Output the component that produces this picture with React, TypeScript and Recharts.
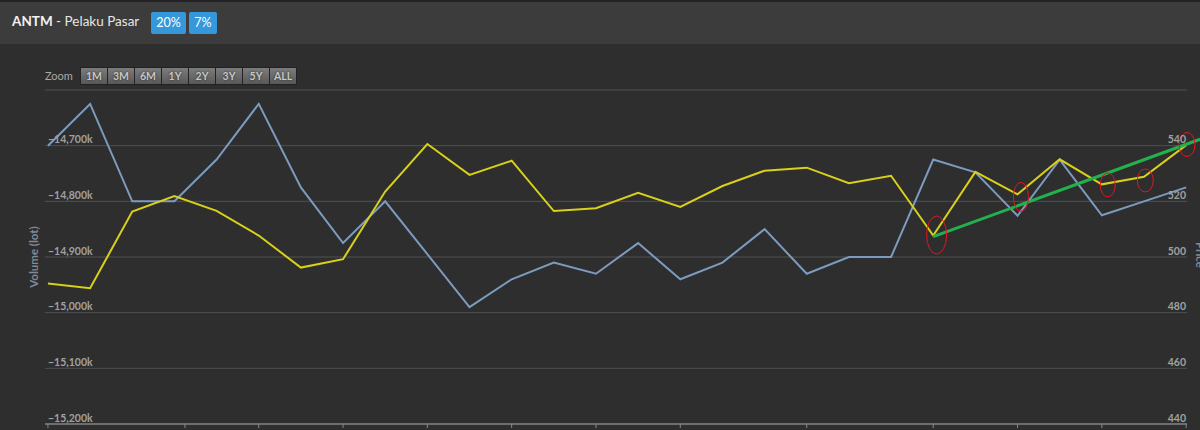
import React from "react";
import {
  LineChart,
  Line,
  XAxis,
  YAxis,
  CartesianGrid,
  ReferenceLine,
  ReferenceDot,
} from "recharts";

// one value per trading session, oldest first
const volumeLot = [
  -14700000, -14625000, -14800000, -14800000, -14725000, -14625000, -14775000,
  -14875000, -14800000, -14895000, -14990000, -14940000, -14910000, -14930000,
  -14875000, -14940000, -14910000, -14850000, -14930000, -14900000, -14900000,
  -14725000, -14748000, -14826000, -14725000, -14825000, -14800000, -14775000,
];

const price = [
  490.5, 488.8, 516.3, 521.9, 516.6, 507.7, 496.2, 499.2, 523.5, 540.6, 529.5,
  534.6, 516.5, 517.5, 523.1, 518, 525.5, 531, 532.1, 526.5, 529.2, 507.7,
  530.6, 522.5, 535.1, 526.1, 528.8, 540.2,
];

const volumeTicks = [
  -15200000, -15100000, -15000000, -14900000, -14800000, -14700000, -14600000,
];
const priceTicks = [440, 460, 480, 500, 520, 540, 560];
const sessionTicks = [0, 3.25, 5, 7, 9, 11, 13, 15, 18, 21, 23, 25, 27];

const zoomButtons = ["1M", "3M", "6M", "1Y", "2Y", "3Y", "5Y", "ALL"];
const ratioBadges = ["20%", "7%"];

// hand-drawn marks on the screenshot: trend line and circled sessions
const trendFrom = { session: 21, price: 507.3 };
const trendTo = { session: 27.33, price: 542.3 };
const circled = [
  { session: 21.08, price: 507.9, rx: 10, ry: 19 },
  { session: 23.08, price: 521.6, rx: 7.5, ry: 14.5 },
  { session: 25.14, price: 525.9, rx: 7.5, ry: 12 },
  { session: 26.03, price: 527.5, rx: 8, ry: 11.5 },
  { session: 27.02, price: 540.4, rx: 8, ry: 12 },
];

const data = price.map((p, i) => ({
  session: i,
  volume: volumeLot[i],
  price: p,
}));

const fmtVolume = (v: number) =>
  "\u2212" + Math.abs(v / 1000).toLocaleString("en-US") + "k";

const LeftTick = ({ x, y, payload }: any) => {
  if (payload.value === volumeTicks[volumeTicks.length - 1]) return null;
  return (
    <text
      x={x + 3}
      y={y - 2.5}
      textAnchor="start"
      fill="#a0a0a0"
      fontSize={10.5}
      fontWeight="bold"
      fontFamily="Lato"
    >
      {fmtVolume(payload.value)}
    </text>
  );
};

const RightTick = ({ x, y, payload }: any) => {
  if (payload.value === priceTicks[priceTicks.length - 1]) return null;
  return (
    <text
      x={x - 1}
      y={y - 2.5}
      textAnchor="end"
      fill="#a0a0a0"
      fontSize={10.5}
      fontWeight="bold"
      fontFamily="Lato"
    >
      {payload.value}
    </text>
  );
};

const NoLabel = () => <g />;

const App = () => {
  return (
    <div
      style={{
        position: "absolute",
        left: 0,
        top: 0,
        width: 1200,
        height: 430,
        overflow: "hidden",
        background: "#2e2e2e",
        fontFamily: "Lato",
      }}
    >
      {/* header */}
      <div
        style={{
          position: "absolute",
          left: 0,
          top: 0,
          width: 1200,
          height: 44,
          background: "#3c3c3c",
          borderTop: "2px solid #232323",
          boxSizing: "border-box",
        }}
      >
        <div
          style={{
            position: "absolute",
            left: 12,
            top: 11,
            fontSize: 13.5,
            color: "#e6e6e6",
            whiteSpace: "nowrap",
          }}
        >
          <b style={{ color: "#f2f2f2" }}>ANTM</b> - Pelaku Pasar
        </div>
        {ratioBadges.map((b, i) => (
          <div
            key={b}
            style={{
              position: "absolute",
              left: i === 0 ? 151 : 189,
              top: 10,
              height: 22,
              width: i === 0 ? 35 : 28,
              background: "#3498db",
              borderRadius: 2,
              color: "#fff",
              fontSize: 12.5,
              lineHeight: "22px",
              textAlign: "center",
            }}
          >
            {b}
          </div>
        ))}
      </div>

      {/* range selector */}
      <div
        style={{
          position: "absolute",
          left: 45,
          top: 69,
          fontSize: 11,
          color: "#a8a8a8",
        }}
      >
        Zoom
      </div>
      <div
        style={{
          position: "absolute",
          left: 80,
          top: 67,
          display: "flex",
          border: "1px solid #222",
          background: "#222",
          gap: 1,
        }}
      >
        {zoomButtons.map((z) => (
          <div
            key={z}
            style={{
              width: 26,
              height: 16,
              background: "linear-gradient(#7c7c7c, #585858)",
              color: "#c8c8c8",
              fontSize: 10.5,
              fontWeight: "bold",
              lineHeight: "16px",
              textAlign: "center",
              textShadow: "0 0 2px #222",
            }}
          >
            {z}
          </div>
        ))}
      </div>

      {/* axis titles */}
      <div
        style={{
          position: "absolute",
          left: 33,
          top: 257,
          transform: "translate(-50%, -50%) rotate(-90deg)",
          fontSize: 11.5,
          fontWeight: "bold",
          color: "#808a98",
          whiteSpace: "nowrap",
        }}
      >
        Volume (lot)
      </div>
      <div
        style={{
          position: "absolute",
          left: 1200,
          top: 255,
          transform: "translate(-50%, -50%) rotate(90deg)",
          fontSize: 11.5,
          fontWeight: "bold",
          color: "#808a98",
          whiteSpace: "nowrap",
        }}
      >
        Price
      </div>

      <div style={{ position: "absolute", left: 0, top: 0 }}>
        <LineChart
          width={1200}
          height={430}
          data={data}
          margin={{ top: 90, right: 0, bottom: 0, left: 0 }}
        >
          <CartesianGrid
            horizontal
            vertical={false}
            stroke="#515151"
            yAxisId="volume"
          />
          <XAxis
            dataKey="session"
            type="number"
            domain={[-0.07, 27.02]}
            ticks={sessionTicks}
            interval={0}
            height={6}
            tickSize={4}
            tick={<NoLabel />}
            stroke="#777"
            axisLine={{ stroke: "#6e6e6e", strokeWidth: 2 }}
            tickLine={{ stroke: "#888" }}
          />
          <YAxis
            yAxisId="volume"
            orientation="left"
            width={45}
            domain={[-15200000, -14600000]}
            ticks={volumeTicks}
            interval={0}
            axisLine={false}
            tickLine={false}
            tickSize={0}
            tickMargin={0}
            tick={<LeftTick />}
          />
          <YAxis
            yAxisId="price"
            orientation="right"
            width={13}
            domain={[440, 560]}
            ticks={priceTicks}
            interval={0}
            axisLine={false}
            tickLine={false}
            tickSize={0}
            tickMargin={0}
            tick={<RightTick />}
          />
          <Line
            yAxisId="volume"
            dataKey="volume"
            type="linear"
            stroke="#7c9bbf"
            strokeWidth={2}
            dot={false}
            activeDot={false}
            isAnimationActive={false}
          />
          <Line
            yAxisId="price"
            dataKey="price"
            type="linear"
            stroke="#d8d01a"
            strokeWidth={2}
            dot={false}
            activeDot={false}
            isAnimationActive={false}
          />
          <ReferenceLine
            yAxisId="price"
            ifOverflow="visible"
            segment={[
              { x: trendFrom.session, y: trendFrom.price },
              { x: trendTo.session, y: trendTo.price },
            ]}
            stroke="#22b14c"
            strokeWidth={3}
          />
          {circled.map((c, i) => (
            <ReferenceDot
              key={i}
              yAxisId="price"
              x={c.session}
              y={c.price}
              ifOverflow="visible"
              shape={(p: any) => (
                <ellipse
                  cx={p.cx}
                  cy={p.cy}
                  rx={c.rx}
                  ry={c.ry}
                  fill="none"
                  stroke="#e8141c"
                  strokeWidth={1}
                />
              )}
            />
          ))}
        </LineChart>
      </div>
    </div>
  );
};

export default App;
